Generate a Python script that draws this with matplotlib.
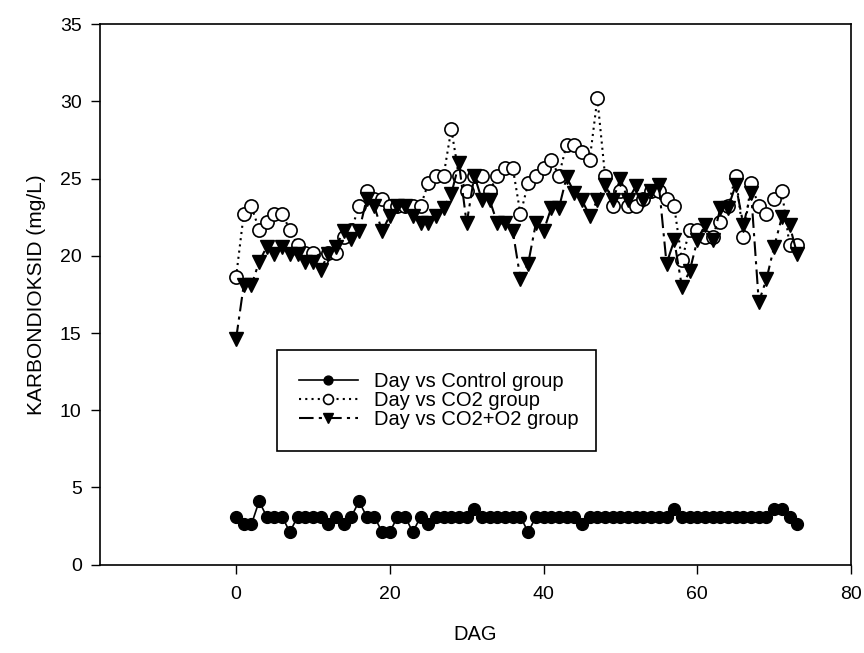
import matplotlib.pyplot as plt
import numpy as np

plt.rcParams['font.family'] = ['Liberation Sans', 'DejaVu Sans']

# days 0..73
days = np.arange(0, 74)

control = [3.1, 2.6, 2.6, 4.1, 3.1, 3.1, 3.1, 2.1, 3.1, 3.1,
           3.1, 3.1, 2.6, 3.1, 2.6, 3.1, 4.1, 3.1, 3.1, 2.1,
           2.1, 3.1, 3.1, 2.1, 3.1, 2.6, 3.1, 3.1, 3.1, 3.1,
           3.1, 3.6, 3.1, 3.1, 3.1, 3.1, 3.1, 3.1, 2.1, 3.1,
           3.1, 3.1, 3.1, 3.1, 3.1, 2.6, 3.1, 3.1, 3.1, 3.1,
           3.1, 3.1, 3.1, 3.1, 3.1, 3.1, 3.1, 3.6, 3.1, 3.1,
           3.1, 3.1, 3.1, 3.1, 3.1, 3.1, 3.1, 3.1, 3.1, 3.1,
           3.6, 3.6, 3.1, 2.6]

co2 = [18.6, 22.7, 23.2, 21.7, 22.2, 22.7, 22.7, 21.7, 20.7, 20.2,
       20.2, 19.7, 20.2, 20.2, 21.2, 21.7, 23.2, 24.2, 23.7, 23.7,
       23.2, 23.2, 23.2, 23.2, 23.2, 24.7, 25.2, 25.2, 28.2, 25.2,
       24.2, 25.2, 25.2, 24.2, 25.2, 25.7, 25.7, 22.7, 24.7, 25.2,
       25.7, 26.2, 25.2, 27.2, 27.2, 26.7, 26.2, 30.2, 25.2, 23.2,
       24.2, 23.2, 23.2, 23.7, 24.2, 24.2, 23.7, 23.2, 19.7, 21.7,
       21.7, 21.2, 21.2, 22.2, 23.2, 25.2, 21.2, 24.7, 23.2, 22.7,
       23.7, 24.2, 20.7, 20.7]

co2_o2 = [14.6, 18.1, 18.1, 19.6, 20.6, 20.1, 20.6, 20.1, 20.1, 19.6,
          19.6, 19.1, 20.1, 20.6, 21.6, 21.1, 21.6, 23.7, 23.2, 21.6,
          22.6, 23.2, 23.2, 22.6, 22.1, 22.1, 22.6, 23.1, 24.0, 26.0,
          22.1, 25.2, 23.6, 23.6, 22.1, 22.1, 21.6, 18.5, 19.5, 22.1,
          21.6, 23.1, 23.1, 25.1, 24.1, 23.6, 22.6, 23.6, 24.6, 23.6,
          25.0, 23.6, 24.5, 23.6, 24.2, 24.6, 19.5, 21.0, 18.0, 19.0,
          21.0, 22.0, 21.0, 23.1, 23.1, 24.6, 22.0, 24.1, 17.0, 18.5,
          20.6, 22.5, 22.0, 20.1]

fig = plt.figure(figsize=(8.64, 6.53), dpi=100)
ax = fig.add_axes([0.1157, 0.1354, 0.8693, 0.8274])

ax.plot(days, control, '-', color='black', lw=1.2, marker='o', ms=8.5,
        mfc='black', mec='black', label='Day vs Control group', zorder=3)
ax.plot(days, co2, color='black', lw=1.5, ls=(0, (1, 2)), marker='o', ms=9.5,
        mfc='white', mec='black', mew=1.2, label='Day vs CO2 group', zorder=4)
ax.plot(days, co2_o2, color='black', lw=1.5, ls=(0, (7, 2.5, 1.5, 2.5)),
        marker='v', ms=10.5, mfc='black', mec='black',
        label='Day vs CO2+O2 group', zorder=5)

ax.set_xlim(-17.7, 80)
ax.set_ylim(0, 35)
ax.set_xticks([0, 20, 40, 60, 80])
ax.set_yticks(np.arange(0, 36, 5))
ax.tick_params(direction='out', length=6.2, width=1, labelsize=14,
               top=False, right=False)
ax.tick_params(axis='x', pad=9)
ax.tick_params(axis='y', pad=7)
for s in ax.spines.values():
    s.set_linewidth(1.2)

ax.set_xlabel('DAG', fontsize=14.5, labelpad=16)
ax.set_ylabel('KARBONDIOKSID (mg/L)', fontsize=15, labelpad=10)

leg = ax.legend(loc='upper left', bbox_to_anchor=(0.2357, 0.1991, 0.4248, 0.198),
                mode='expand', frameon=True, fancybox=False, edgecolor='black',
                framealpha=1, fontsize=14.5, handlelength=2.9, handletextpad=0.8,
                markerscale=0.75, borderpad=1.1, labelspacing=0.0,
                borderaxespad=0)
leg.get_frame().set_linewidth(1.2)

fig.savefig('out.png', dpi=100)
